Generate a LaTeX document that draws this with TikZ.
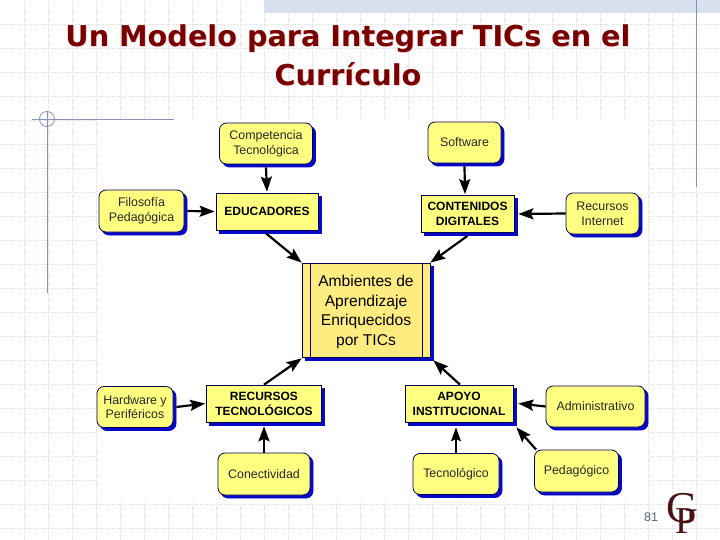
\documentclass[tikz,border=0pt]{standalone}
\usepackage{fontspec}
\setmainfont{Liberation Sans}
\newfontfamily\titlefont{DejaVu Sans}
\newfontfamily\logofont{Liberation Serif}
\usetikzlibrary{arrows.meta,shadows,calc}
\definecolor{boxyellow}{HTML}{FFFF80}
\definecolor{coreyellow}{HTML}{FFEC80}
\definecolor{boxline}{HTML}{000058}
\definecolor{boxshadow}{HTML}{0808C8}
\definecolor{titlered}{HTML}{7A0000}
\definecolor{titlepink}{HTML}{F6DADA}
\definecolor{ruleblue}{HTML}{8492BC}
\definecolor{griddot}{HTML}{DEDEDE}
\definecolor{bandblue}{HTML}{D7E1EF}
\definecolor{logored}{HTML}{4A1414}
\definecolor{pagegrey}{HTML}{5C6484}
\tikzset{
  shade3/.style={copy shadow={shadow xshift=3pt,shadow yshift=-3pt,fill=boxshadow,draw=boxshadow}},
  softbox/.style={shade3,draw=boxline,fill=boxyellow,line width=0.8pt,rounded corners=7pt,inner sep=0pt,align=center,
    font=\fontsize{12.4}{14.8}\selectfont,text=black!85},
  hardbox/.style={shade3,draw=boxline,fill=boxyellow,line width=0.7pt,inner sep=0pt,align=center,
    font=\fontsize{12}{15}\selectfont\bfseries},
  corebox/.style={shade3,draw=boxline,fill=coreyellow,line width=0.7pt,inner sep=0pt,align=center,
    font=\fontsize{15.6}{19.6}\selectfont},
  link/.style={draw=black,line width=2.2pt,-{Stealth[length=15pt,width=11pt,inset=2.5pt]}},
  thinlink/.style={draw=black,line width=1.3pt,-{Stealth[length=14pt,width=10pt,inset=2.5pt]}},
  headline/.style={font=\titlefont\bfseries\fontsize{28.7}{39}\selectfont,align=center,inner sep=0pt},
  griddots/.style={griddot,line width=0.8pt,dash pattern=on 1pt off 1.2pt},
  rulestroke/.style={ruleblue,line width=1pt}
}
\begin{document}
\begin{tikzpicture}[x=1pt,y=-1pt]
\useasboundingbox (0,0) rectangle (720,540);
\fill[white] (0,0) rectangle (720,540);
\fill[bandblue] (264,0) rectangle (720,13);
\foreach \gx in {24,48,...,696} \draw[griddots] (\gx,0) -- (\gx,540);
\foreach \gy in {24,48,...,528} \draw[griddots] (0,\gy) -- (720,\gy);
\fill[white] (96.5,119) rectangle (647.5,501);
% template rules
\draw[rulestroke] (696.5,0) -- (696.5,187);
\draw[rulestroke] (47.5,111) -- (47.5,293);
\draw[rulestroke] (32,119.5) -- (174,119.5);
\draw[rulestroke,line width=0.8pt] (47,119) circle[radius=7.5];
% title
\node[headline,text=titlepink] (titleshade) at (349,56.5) {Un Modelo para Integrar TICs en el\\Currículo};
\node[headline,text=titlered] (titlemain) at (348,55.5) {Un Modelo para Integrar TICs en el\\Currículo};
% boxes
\node[softbox,minimum width=93pt,minimum height=41pt] (comp) at (266,143.5) {Competencia\\Tecnológica};
\node[softbox,minimum width=85pt,minimum height=42pt] (filo) at (141.5,211) {Filosofía\\Pedagógica};
\node[hardbox,minimum width=102pt,minimum height=37pt] (edu) at (267,211.5) {EDUCADORES};
\node[softbox,minimum width=73pt,minimum height=41pt] (soft) at (464.5,142.5) {Software};
\node[hardbox,minimum width=93pt,minimum height=37pt] (cont) at (467.5,214) {CONTENIDOS\\DIGITALES};
\node[softbox,minimum width=73pt,minimum height=41pt] (recu) at (602.5,213.5) {Recursos\\Internet};
\node[corebox,minimum width=128pt,minimum height=94pt] (core) at (366,310) {\rule{0pt}{15.6pt}Ambientes de\\Aprendizaje\\Enriquecidos\\por TICs};
\draw[boxline,line width=0.7pt] ([xshift=8.5pt]core.north west) -- ([xshift=8.5pt]core.south west);
\draw[boxline,line width=0.7pt] ([xshift=-8.5pt]core.north east) -- ([xshift=-8.5pt]core.south east);
\node[softbox,minimum width=76pt,minimum height=41pt] (hard) at (135,407) {Hardware y\\Periféricos};
\node[hardbox,minimum width=115pt,minimum height=37pt] (rect) at (264,403.5) {RECURSOS\\TECNOLÓGICOS};
\node[softbox,minimum width=92pt,minimum height=42pt] (cone) at (264,474) {Conectividad};
\node[hardbox,minimum width=108pt,minimum height=37pt] (apoy) at (459,403.5) {APOYO\\INSTITUCIONAL};
\node[softbox,minimum width=99pt,minimum height=41pt] (admi) at (595.5,406.5) {Administrativo};
\node[softbox,minimum width=86pt,minimum height=41pt] (tecn) at (456,474) {Tecnológico};
\node[softbox,minimum width=84pt,minimum height=42pt] (peda) at (576.5,471) {Pedagógico};
% connectors
\draw[link] ([yshift=-3pt]comp.south) -- ([yshift=1pt]edu.north);
\draw[link] ([xshift=3pt]filo.east) -- ([xshift=-1pt]edu.west);
\draw[link] ([xshift=-1pt,yshift=-3pt]edu.south) -- (core.north west);
\draw[link] ([yshift=-3pt]soft.south) -- ([xshift=-2.5pt,yshift=1pt]cont.north);
\draw[link] (recu.west) -- ([xshift=4pt]cont.east);
\draw[link] ([yshift=-3pt]cont.south) -- (core.north east);
\draw[link] ([xshift=3pt]hard.east) -- ([xshift=-1pt]rect.west);
\draw[link] (cone.north) -- ([yshift=-4pt]rect.south);
\draw[link] (rect.north) -- ([yshift=-1pt]core.south west);
\draw[thinlink] (tecn.north) -- ([xshift=-3pt,yshift=-5pt]apoy.south);
\draw[link] (admi.west) -- ([xshift=5pt]apoy.east);
\draw[link] ([xshift=2pt]peda.north west) -- ([xshift=3pt,yshift=-5pt]apoy.south east);
\draw[link] ([xshift=1pt]apoy.north) -- ([xshift=3pt,yshift=-3pt]core.south east);
% footer
\node[text=pagegrey,font=\fontsize{12.5}{15}\selectfont,inner sep=0pt] (pagenum) at (651,517) {81};
\node[text=logored,font=\logofont\fontsize{44}{44}\selectfont,inner sep=0pt] (logog) at (682,508.5) {G};
\node[text=logored,font=\logofont\fontsize{38}{38}\selectfont,inner sep=0pt] (logop) at (686,521.5) {P};
\end{tikzpicture}
\end{document}
